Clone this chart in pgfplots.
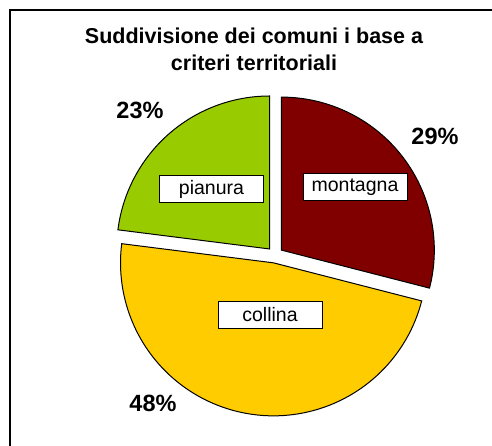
\documentclass[border=0pt]{standalone}
\usepackage{fontspec}
\setmainfont{Liberation Sans}
\usepackage{pgfplots}
\pgfplotsset{compat=1.18}
\definecolor{mont}{RGB}{128,0,0}
\definecolor{coll}{RGB}{255,204,0}
\definecolor{pian}{RGB}{153,204,0}
\newcommand\curangle{90}
\newcommand\pieslice[2]{% percent, colour
 \pgfmathsetmacro\sa{\curangle}%
 \pgfmathsetmacro\ea{\curangle-3.6*#1}%
 \pgfmathsetmacro\ma{(\sa+\ea)/2}%
 \pgfmathsetmacro\cx{275+8*cos(\ma)}%
 \pgfmathsetmacro\cy{191+8*sin(\ma)}%
 \edef\doslice{\noexpand\addplot[draw=black, line width=1pt, fill=#2, domain=\ea:\sa, samples=90] ({\cx+153*cos(x)},{\cy+153*sin(x)}) -- (axis cs:\cx,\cy) -- cycle;}%
 \doslice
 \xdef\curangle{\ea}%
}
\begin{document}
\begin{tikzpicture}
\begin{axis}[width=492pt,height=446pt,scale only axis,xmin=0,xmax=492,ymin=0,ymax=446,hide axis,clip=false,enlargelimits=false]
\pieslice{29}{mont}
\pieslice{48}{coll}
\pieslice{23}{pian}
\draw[line width=2pt] (axis cs:10,0) -- (axis cs:10,436) -- (axis cs:492,436);
\node[anchor=base,font=\fontsize{21.5}{25}\selectfont\bfseries] at (axis cs:254,402) {Suddivisione dei comuni i base a};
\node[anchor=base,font=\fontsize{21.5}{25}\selectfont\bfseries] at (axis cs:254,375) {criteri territoriali};
\node[anchor=base,font=\fontsize{23.5}{27}\selectfont\bfseries] at (axis cs:140,327) {23\%};
\node[anchor=base,font=\fontsize{23.5}{27}\selectfont\bfseries] at (axis cs:435,301) {29\%};
\node[anchor=base,font=\fontsize{23.5}{27}\selectfont\bfseries] at (axis cs:153,34) {48\%};
\tikzset{lab/.style={draw=black,fill=white,line width=1pt,minimum width=104pt,minimum height=27pt,inner sep=0pt,font=\fontsize{19.5}{23}\selectfont}}
\node[lab] at (axis cs:211.5,257) {pianura};
\node[lab] at (axis cs:355,258.5) {montagna};
\node[lab] at (axis cs:270,131) {collina};
\end{axis}
\pgfresetboundingbox
\path[use as bounding box] (current axis.south west) rectangle (current axis.north east);
\end{tikzpicture}
\end{document}
